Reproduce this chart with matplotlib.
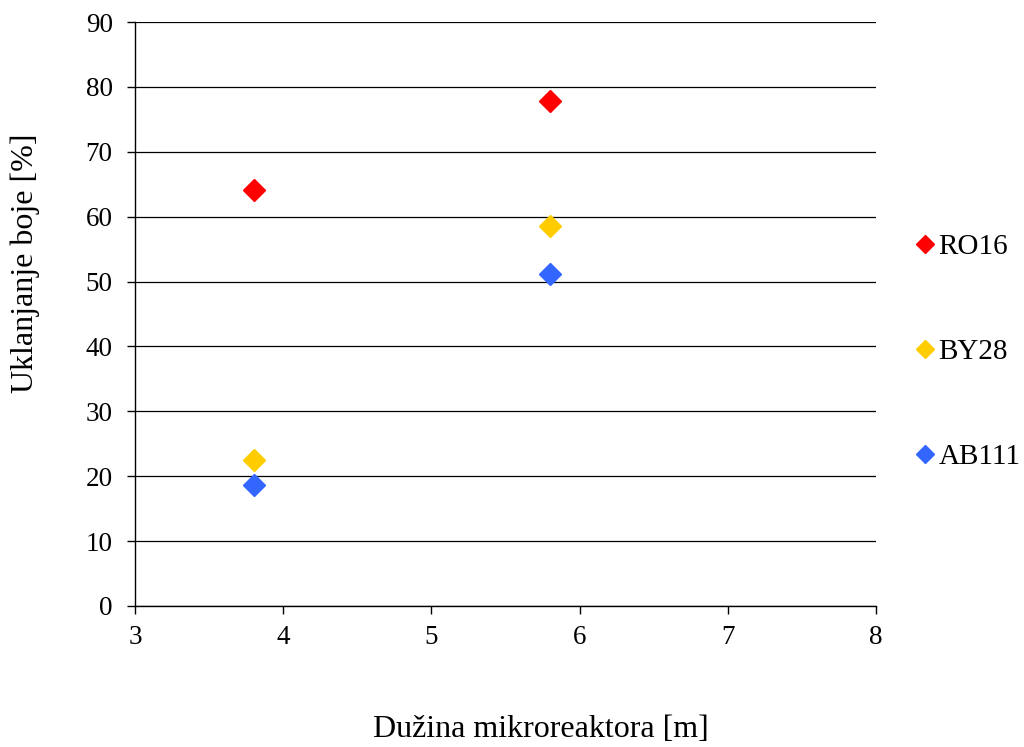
import matplotlib.pyplot as plt

plt.rcParams['font.family'] = ['Liberation Serif', 'DejaVu Serif']

# data
length = [3.8, 5.8]
ro16 = [64.1, 77.9]
by28 = [22.5, 58.6]
ab111 = [18.6, 51.2]

series = [
    ('RO16', ro16, '#FF0000'),
    ('BY28', by28, '#FFCC00'),
    ('AB111', ab111, '#3366FF'),
]

fig = plt.figure(figsize=(10.24, 7.47), dpi=100, facecolor='white')
ax = fig.add_axes([0.1318, 0.1888, 0.7237, 0.7817])

for name, vals, col in series:
    ax.plot(length, vals, linestyle='none', marker='D', markersize=11,
            color=col, markeredgecolor=col, label=name, zorder=3)

ax.set_xlim(3, 8)
ax.set_ylim(0, 90)
ax.set_xticks(range(3, 9))
ax.set_yticks(range(0, 91, 10))
ax.yaxis.grid(True, color='black', linewidth=0.9)
ax.set_axisbelow(True)

for s in ['top', 'right']:
    ax.spines[s].set_visible(False)
for s in ['left', 'bottom']:
    ax.spines[s].set_color('black')
    ax.spines[s].set_linewidth(1.0)

ax.tick_params(axis='both', direction='out', length=6, width=1.0,
               labelsize=19.5, colors='black')
ax.tick_params(axis='y', pad=10)
ax.tick_params(axis='x', pad=8)

# axis titles placed as in the reference
fig.text(0.0244, 0.648, 'Uklanjanje boje [%]', fontsize=23, rotation=90,
         ha='center', va='center')
fig.text(0.5283, 0.0228, 'Dužina mikroreaktora [m]', fontsize=23,
         ha='center', va='center')

leg = fig.legend(loc='center left', bbox_to_anchor=(0.895, 0.529),
                 frameon=False, fontsize=21, labelspacing=2.7,
                 handlelength=0.55, handletextpad=0.2, markerscale=0.8,
                 borderaxespad=0, borderpad=0)

plt.savefig('out.png', dpi=100, facecolor='white')
plt.close()
